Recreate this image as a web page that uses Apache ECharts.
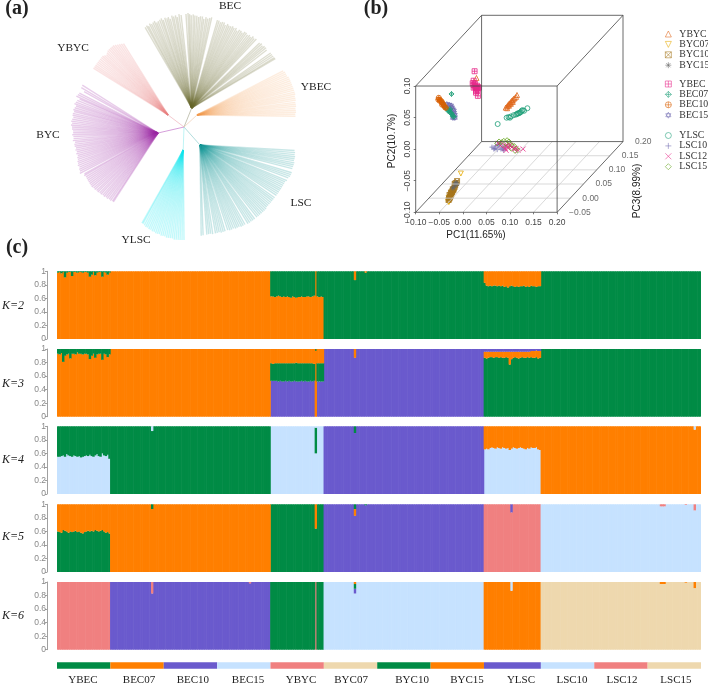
<!DOCTYPE html>
<html>
<head>
<meta charset="utf-8">
<script src="https://cdn.jsdelivr.net/npm/echarts@6/dist/echarts.min.js"></script>
<style>
  html, body { margin: 0; padding: 0; background: #fff; }
  #chart { width: 708px; height: 684px; }
</style>
</head>
<body>
<div id="chart"></div>
<script>
// ---- (c) populations ----
const popNames = ['YBEC', 'BEC07', 'BEC10', 'BEC15', 'YBYC', 'BYC07', 'BYC10', 'BYC15', 'YLSC', 'LSC10', 'LSC12', 'LSC15'];
const popSizes = [30, 30, 30, 30, 30, 30, 30, 30, 32, 30, 30, 30];
const popLabelAt = [14.6, 46.1, 76.4, 107.4, 137.2, 165.3, 199.6, 230.5, 260.8, 289.5, 317.6, 347.9];
const total = 362;

const GREEN = '#008b45', ORANGE = '#ff7f00', PURPLE = '#6a5acd', BLUE = '#c6e2ff', SALMON = '#f08080', TAN = '#eed8ae';
const stripColors = [GREEN, ORANGE, PURPLE, BLUE, SALMON, TAN, GREEN, ORANGE, PURPLE, BLUE, SALMON, TAN];

// jagged parts, read per individual
const k2YbecOrange = [.98,.99,.97,.99,.91,.98,.99,.99,.93,.99,.99,.98,.99,.99,.98,.99,.99,.98,.92,.95,.99,.94,.98,.99,.99,.92,.99,.98,.95,.98];
const k2YbycOrange = [.63,.63,.62,.63,.64,.63,.62,.63,.62,.63,.62,.61,.63,.62,.61,.62,.62,.63,.62,.62,.63,.63,.62,.63,.64,1,.63,.62,.63,.62];
const k2YlscOrange = [.17,.21,.22,.21,.22,.21,.21,.22,.21,.22,.21,.23,.22,.24,.22,.21,.22,.23,.22,.23,.22,.22,.21,.23,.22,.23,.21,.22,.22,.23,.22,.22];
const k3YbecOrange = [.93,.92,.94,.81,.9,.92,.93,.86,.93,.93,.92,.95,.93,.93,.92,.93,.93,.92,.85,.9,.93,.87,.92,.93,.93,.84,.93,.92,.88,.92];
const k3YbecGreen = [.07,.08,.06,.19,.1,.08,.07,.14,.07,.07,.08,.05,.07,.07,.08,.07,.07,.08,.15,.1,.07,.13,.08,.07,.07,.16,.07,.08,.12,.08];
const k3YbycPurple = [.53,.53,.53,.53,.52,.53,.52,.52,.53,.52,.53,.52,.52,.53,.52,.52,.52,.53,.52,.53,.52,.52,.53,.52,.53,0,.52,.52,.52,.52];
const k3YbycGreen = [.26,.25,.26,.26,.27,.26,.27,.27,.26,.27,.26,.27,.27,.26,.28,.27,.27,.26,.27,.26,.27,.27,.26,.27,.25,.03,.27,.27,.27,.27];
const k3YbycOrange = [.21,.22,.21,.21,.21,.21,.21,.21,.21,.21,.21,.21,.21,.21,.2,.21,.21,.21,.21,.21,.21,.21,.21,.21,.22,0,.21,.21,.21,.21];
const k3YlscGreen = [.87,.86,.87,.88,.88,.87,.88,.88,.87,.88,.87,.87,.88,.87,.77,.85,.87,.88,.87,.86,.87,.88,.87,.87,.88,.87,.88,.87,.87,.88,.86,.87];
const k3YlscOrange = [.09,.1,.09,.08,.08,.09,.08,.08,.09,.08,.09,.09,.08,.09,.19,.11,.09,.08,.09,.1,.09,.08,.09,.09,.08,.09,.09,.1,.1,.1,.11,.1];
const k4YbecBlue = [.55,.55,.56,.57,.55,.59,.57,.56,.55,.57,.56,.55,.56,.54,.55,.56,.57,.56,.58,.56,.55,.57,.59,.56,.55,.6,.57,.56,.58,.52];
const k4YbecGreen = [.45,.45,.44,.43,.45,.41,.43,.44,.45,.43,.44,.45,.44,.46,.45,.44,.43,.44,.42,.44,.45,.43,.41,.44,.45,.4,.43,.44,.42,.48];
const k4YlscBlue = [.66,.67,.66,.68,.69,.68,.67,.69,.68,.67,.69,.68,.67,.68,.65,.67,.69,.68,.67,.68,.69,.68,.67,.66,.68,.67,.69,.68,.68,.69,.66,.65];
const k4YlscOrange = [.34,.33,.34,.32,.31,.32,.33,.31,.32,.33,.31,.32,.33,.32,.35,.33,.31,.32,.33,.32,.31,.32,.33,.34,.32,.33,.31,.32,.32,.31,.34,.35];
const k5YbecGreen = [.6,.59,.58,.62,.61,.6,.58,.6,.59,.6,.61,.59,.6,.58,.57,.59,.6,.61,.6,.61,.6,.62,.61,.6,.61,.62,.6,.58,.59,.57];
const k5YbecOrange = [.4,.41,.42,.38,.39,.4,.42,.4,.41,.4,.39,.41,.4,.42,.43,.41,.4,.39,.4,.39,.4,.38,.39,.4,.39,.38,.4,.42,.41,.43];

// [how many individuals, value] runs, or a typed list as it is
const expand = (parts) => parts.flatMap((p) => (p.length === 2 ? Array(p[0]).fill(p[1]) : p));
// admixture adds up to 1 for an individual
const rest = (...layers) => layers[0].map((_, i) => +(1 - layers.reduce((s, l) => s + l[i], 0)).toFixed(3));

// K=2, bottom to top
const k2a = expand([k2YbecOrange, [90, 1], k2YbycOrange, [212, 0]]);
const k2c = expand([[167, 0], [1, .13], [5, 0], [1, .02], [66, 0], k2YlscOrange, [90, 0]]);
const k2b = rest(k2a, k2c);

// K=3
const k3a = expand([[120, 0], k3YbycPurple, [17, 1], [1, .87], [72, 1], [122, 0]]);
const k3b = expand([k3YbecOrange, [90, 1], [25, 0], [1, .97], [216, 0]]);
const k3c = expand([k3YbecGreen, [90, 0], k3YbycGreen, [90, 0], k3YlscGreen, [90, 1]]);
const k3d = expand([[120, 0], k3YbycOrange, [17, 0], [1, .13], [72, 0], k3YlscOrange, [90, 0]]);
const k3e = rest(k3a, k3b, k3c, k3d);

// K=4
const k4a = expand([k4YbecBlue, [90, 0], [25, 1], [1, .6], [4, 1], [90, 0], k4YlscBlue, [90, 0]]);
const k4b = expand([k4YbecGreen, [23, 1], [1, .93], [66, 1], [25, 0], [1, .38], [216, 0]]);
const k4c = expand([[150, 0], [17, 1], [1, .9], [72, 1], [122, 0]]);
const k4d = expand([[240, 0], k4YlscOrange, [86, 1], [1, .95], [3, 1]]);
const k4e = expand([[53, 0], [1, .07], [91, 0], [1, .02], [212, 0], [1, .05], [3, 0]]);
const k4f = expand([[167, 0], [1, .1], [194, 0]]);

// K=5
const k5a = expand([k5YbecGreen, [90, 0], [25, 1], [1, .64], [4, 1], [212, 0]]);
const k5b = expand([k5YbecOrange, [23, 1], [1, .93], [66, 1], [25, 0], [1, .36], [216, 0]]);
const k5c = expand([[150, 0], [17, 1], [1, .83], [5, 1], [1, .985], [66, 1], [122, 0]]);
const k5d = expand([[167, 0], [1, .1], [194, 0]]);
const k5e = expand([[53, 0], [1, .07], [113, 0], [1, .07], [5, 0], [1, .015], [188, 0]]);
const k5f = expand([[240, 0], [15, 1], [1, .88], [16, 1], [90, 0]]);
const k5g = expand([[255, 0], [1, .12], [106, 0]]);
const k5h = expand([[272, 0], [67, 1], [3, .97], [11, 1], [1, .99], [4, 1], [1, .91], [3, 1]]);
const k5i = expand([[339, 0], [3, .03], [11, 0], [1, .01], [4, 0], [1, .09], [3, 0]]);

// K=6
const k6a = expand([[30, 1], [115, 0], [1, 1], [216, 0]]);
const k6b = expand([[30, 0], [23, 1], [1, .83], [54, 1], [1, .98], [11, 1], [242, 0]]);
const k6c = expand([[53, 0], [1, .17], [54, 0], [1, .02], [253, 0]]);
const k6d = expand([[120, 0], [25, 1], [1, 0], [4, 1], [212, 0]]);
const k6e = expand([[150, 0], [17, 1], [1, .83], [72, 1], [122, 0]]);
const k6f = expand([[167, 0], [1, .07], [194, 0]]);
const k6g = expand([[167, 0], [1, .07], [5, 0], [1, .01], [188, 0]]);
const k6h = expand([[167, 0], [1, .03], [72, 0], [15, 1], [1, .87], [16, 1], [90, 0]]);
const k6i = expand([[255, 0], [1, .13], [106, 0]]);
const k6j = expand([[272, 0], [67, 1], [3, .97], [11, 1], [1, .99], [4, 1], [1, .91], [3, 1]]);
const k6k = expand([[339, 0], [3, .03], [11, 0], [1, .01], [4, 0], [1, .09], [3, 0]]);

// ---- (a) tree: tips as [angle, radius] around the knot ----
const becTips = [[111.3,107],[110.3,108],[109.4,107],[108.5,109],[107.5,108],[106.6,109],[105.7,110],[104.7,108],[103.8,109],[102.8,110],[101.9,111],[101,109],[100,111],[99,110],[98.2,111],[97.2,109],[96.3,112],[95.4,111],[94.4,112],[93.5,110],[92.6,113],[91.5,112],[89,113],[88,114],[87.2,113],[86.3,112],[85.3,113],[84.4,112],[83.4,112],[82.4,111],[81.5,112],[80.5,112],[79.6,110],[78.6,112],[77.7,111],[76.7,112],[75.8,113],[72.6,112],[71.7,112],[70.7,111],[69.8,112],[68.8,112],[67.9,110],[66.9,112],[66,111],[65,111],[64,112],[63.1,111],[62.1,112],[61.2,110],[60.2,112],[59.2,112],[58.3,111],[57.3,113],[56.4,113],[55.4,112],[54.4,113],[53.5,112],[52.5,114],[51.6,113],[50.6,114],[48,113],[47,114],[46,113],[45,114],[44,114],[43,113],[40.5,114],[39.5,114],[38.5,114],[37.5,114],[36.8,114]];
const ybecTips = [[5.5,112],[6.5,112],[7.5,113],[8.5,113],[9.5,113],[10.5,114],[11.5,114],[12.5,114],[13.5,115],[14.5,115],[15.5,115],[16.5,116],[17.5,116],[18.5,116],[19.5,116],[20.5,116],[21.5,116],[22.5,116],[23.5,116],[24.5,116],[25.5,116],[26.5,115],[27.5,115],[28.5,115],[29.5,114]];
const lscTips = [[348,113],[347,114],[346,114],[345,115],[344,115],[343,115],[342,116],[341,116],[340,116],[339,116],[337,117],[336,117],[335,117],[334,116],[332.5,116],[331.5,115],[330.5,115],[329.5,115],[328.5,115],[327.5,115],[326.5,115],[325.5,115],[324.5,115],[323.5,115],[322,115],[321,115],[320,115],[319,115],[318,115],[317,115],[316,115],[315,116],[314,116],[313,116],[312,116],[311,116],[310,116],[309,116],[307.5,116],[306.5,116],[305.5,116],[304.5,116],[303.5,116],[302,115],[301,115],[300,115],[299,114],[298,114],[297,114],[296,113],[295,113],[294,113],[293,112],[291.5,112],[290.5,112],[289.5,112],[288.5,111],[287.5,111],[286.5,111],[285,111],[284,110],[283,110],[282,110],[280,110],[279,110]];
const ylscTips = [[270,113],[269,113],[268,113],[267,113],[266,113],[265,113],[264,112],[263,112],[262,112],[261,112],[260,111],[259,111],[258,111],[257,110],[256,110],[255,110],[254,109],[253,109],[252,108],[251,108],[250,107],[249,107],[248,106],[247,105],[246.4,105]];
const bycTips = [[157.6,110],[159,110],[160.5,106],[162,110],[163,111],[164,112],[165,108],[166,110],[167,111],[168,112],[169,110],[170,111],[171,112],[172,111],[173,112],[174,112],[175,111],[176,112],[177,113],[178,112],[179,113],[180,112],[181,112],[182,111],[183,111],[184,112],[185,111],[186,111],[187,112],[188,110],[189,111],[190,111],[191,110],[192,111],[193,110],[194,111],[195,110],[196,111],[197,111],[198,112],[199,112],[200,113],[201,112],[202,113],[203,113],[204,114],[205.2,110],[206,111],[207,110],[208,110],[209,110],[210,110],[211,110],[212,110],[213,110],[214,109],[215,109],[216,108],[217,108],[218,107],[219,107],[220,106],[221,106],[222,105],[223,105],[224,104],[225,104],[226,103],[226.7,103]];
const ybycTips = [[126,103],[127,104],[128,105],[129,106],[130,107],[131,108],[132,108],[133,108],[134,108],[135,108],[136,107],[137,106],[138,107],[139,108],[140,108],[141,108],[142,108],[143,108],[144,108],[145,108],[146,108],[147,108]];
// where each clade fans out, [angle, radius]
const becHub = [68, 20.5], ybecHub = [42.7, 17.7], lscHub = [311.6, 24], ylscHub = [268, 23], bycHub = [193, 26.7], ybycHub = [143, 20];

// ---- (b) PCA, [pc1, pc2, pc3] ----
const pc1Ticks = [-0.10, -0.05, 0, 0.05, 0.10, 0.15, 0.20];
const pc2Ticks = [-0.10, -0.05, 0, 0.05, 0.10];
const pc3Ticks = [-0.05, 0, 0.05, 0.10, 0.15, 0.20];
const ybycPts = [[-.027,.068,.05],[.035,.021,.05],[.038,.023,.05],[.04,.025,.05],[.042,.027,.05],[.044,.028,.05],[.046,.03,.05],[.048,.032,.05],[.05,.033,.05],[.052,.035,.05],[.054,.036,.05],[.057,.038,.05],[.059,.041,.05],[.038,.02,.05],[.042,.024,.05],[.046,.027,.05],[.05,.03,.05]];
const byc07Pts = [[-.021,-.052,-.02],[-.046,-.097,-.02],[-.044,-.092,-.02],[-.047,-.091,-.02],[-.04,-.086,-.02],[-.042,-.089,-.02],[-.036,-.081,-.02],[-.048,-.097,-.02]];
const byc10Pts = [[-.029,-.064,-.02],[-.031,-.067,-.02],[-.033,-.07,-.02],[-.034,-.073,-.02],[-.036,-.076,-.02],[-.037,-.078,-.02],[-.039,-.08,-.02],[-.04,-.082,-.02],[-.041,-.084,-.02],[-.042,-.086,-.02],[-.043,-.088,-.02],[-.044,-.089,-.02],[-.045,-.091,-.02],[-.046,-.092,-.02],[-.047,-.094,-.02],[-.038,-.077,-.02],[-.042,-.082,-.02],[-.045,-.086,-.02],[-.034,-.068,-.02]];
const byc15Pts = [[-.029,-.069,-.02],[-.031,-.066,-.02],[-.034,-.072,-.02],[-.038,-.075,-.02],[-.033,-.068,-.02]];
const ybecPts = [[-.003,.101,0],[-.005,.086,0],[.004,.062,0],[-.007,.082,0],[-.005,.079,0],[-.002,.076,0],[0,.075,0],[.002,.073,0],[.004,.071,0],[.006,.075,0],[-.005,.075,0],[0,.07,0],[-.002,.081,0],[.002,.078,0],[.004,.076,0],[0,.067,0]];
const bec07Pts = [[-.052,.065,0],[-.072,.051,0],[-.069,.048,0],[-.066,.045,0],[-.064,.043,0],[-.061,.041,0],[-.057,.039,0],[-.055,.036,0],[-.053,.035,0],[-.051,.033,0],[-.049,.03,0],[-.047,.029,0],[-.059,.038,0],[-.055,.041,0]];
const bec10Pts = [[-.079,.059,0],[-.077,.056,0],[-.074,.054,0],[-.077,.054,0],[-.072,.052,0],[-.07,.049,0],[-.072,.048,0],[-.068,.047,0],[-.066,.044,0],[-.064,.043,0],[-.08,.056,0]];
const bec15Pts = [[-.062,.049,0],[-.057,.048,0],[-.053,.047,0],[-.051,.044,0],[-.055,.044,0],[-.049,.041,0],[-.047,.039,0],[-.053,.04,0],[-.047,.035,0],[-.045,.032,0],[-.045,.027,0],[-.049,.027,0],[-.049,.033,0]];
const ylscPts = [[.018,-.005,.05],[.037,.005,.05],[.041,.006,.05],[.046,.007,.05],[.052,.009,.05],[.057,.01,.05],[.061,.012,.05],[.065,.013,.05],[.067,.014,.05],[.069,.016,.05],[.071,.017,.05],[.074,.016,.05],[.063,.012,.05],[.059,.011,.05],[.081,.02,.05],[.044,.005,.05]];
const lsc10Pts = [[-.022,-.064,.1],[-.018,-.067,.1],[-.014,-.062,.1],[-.011,-.068,.1],[-.007,-.064,.1],[-.005,-.059,.1],[-.001,-.062,.1],[.001,-.067,.1],[.006,-.064,.1],[-.009,-.06,.1],[-.016,-.066,.1],[-.003,-.067,.1],[.003,-.069,.1]];
const lsc12Pts = [[-.009,-.058,.1],[-.003,-.062,.1],[.001,-.059,.1],[.006,-.066,.1],[.01,-.061,.1],[.012,-.064,.1],[.016,-.061,.1],[.02,-.064,.1],[.025,-.067,.1],[.029,-.066,.1],[.033,-.069,.1],[.044,-.067,.1],[.008,-.069,.1]];
const lsc15Pts = [[-.011,-.058,.1],[-.007,-.055,.1],[-.001,-.056,.1],[.003,-.054,.1],[.01,-.053,.1],[.014,-.055,.1],[.008,-.058,.1],[.016,-.059,.1],[.02,-.061,.1],[.025,-.062,.1],[.029,-.066,.1],[.033,-.069,.1],[.027,-.07,.1],[.001,-.061,.1],[.012,-.062,.1],[.018,-.066,.1]];

const SERIF = '"Liberation Serif", "Times New Roman", serif';
const SANS = '"Liberation Sans", Arial, sans-serif';

// scatterplot3d style oblique projection of the cube
const project = (p) => [p[0] + 0.559 * (p[2] + 0.05), p[1] + 0.448 * (p[2] + 0.05)];
const minus = (v) => v.toFixed(2).replace('-', '\u2212');

// R pch shapes
const cross = 'M5 0V10M0 5H10';
const ex = 'M0 0L10 10M10 0L0 10';
const box = 'M0 0H10V10H0Z';
const ring = 'M0 5A5 5 0 1 1 10 5A5 5 0 1 1 0 5Z';
const rhomb = 'M5 0L10 5L5 10L0 5Z';
const pcaSeries = [
  { name: 'YBYC', pts: ybycPts, color: '#e0681c', path: 'M5 0L10 10L0 10Z' },
  { name: 'BYC07', pts: byc07Pts, color: '#e6ab02', path: 'M0 0H10L5 10Z' },
  { name: 'BYC10', pts: byc10Pts, color: '#a6761d', path: box + ex },
  { name: 'BYC15', pts: byc15Pts, color: '#666666', path: cross + 'M1.5 1.5L8.5 8.5M8.5 1.5L1.5 8.5' },
  { name: 'YBEC', pts: ybecPts, color: '#e7298a', path: box + cross },
  { name: 'BEC15', pts: bec15Pts, color: '#7570b3', path: 'M5 0L9.3 7.5H0.7ZM5 10L0.7 2.5H9.3Z' },
  { name: 'BEC07', pts: bec07Pts, color: '#1b9e77', path: rhomb + cross },
  { name: 'BEC10', pts: bec10Pts, color: '#d95f02', path: ring + cross },
  { name: 'YLSC', pts: ylscPts, color: '#1b9e77', path: ring },
  { name: 'LSC10', pts: lsc10Pts, color: '#7570b3', path: cross },
  { name: 'LSC15', pts: lsc15Pts, color: '#66a61e', path: rhomb },
  { name: 'LSC12', pts: lsc12Pts, color: '#e7298a', path: ex }
];

// cube edges, floor grid
const cubeEdges = [];
const addEdge = (list, a, b) => { list.push(project(a), project(b), [null, null]); };
[-0.1, 0.1].forEach((y) => {
  addEdge(cubeEdges, [-0.1, y, -0.05], [0.2, y, -0.05]);
  addEdge(cubeEdges, [-0.1, y, 0.2], [0.2, y, 0.2]);
  addEdge(cubeEdges, [-0.1, y, -0.05], [-0.1, y, 0.2]);
  addEdge(cubeEdges, [0.2, y, -0.05], [0.2, y, 0.2]);
});
[-0.1, 0.2].forEach((x) => {
  addEdge(cubeEdges, [x, -0.1, -0.05], [x, 0.1, -0.05]);
  addEdge(cubeEdges, [x, -0.1, 0.2], [x, 0.1, 0.2]);
});
const floorLines = [];
pc1Ticks.slice(1, -1).forEach((x) => addEdge(floorLines, [x, -0.1, -0.05], [x, -0.1, 0.2]));
pc3Ticks.slice(1, -1).forEach((z) => addEdge(floorLines, [-0.1, -0.1, z], [0.2, -0.1, z]));

const cladeSeries = (tips, hub, color, opacity) => ({
  type: 'custom',
  coordinateSystem: 'polar',
  polarIndex: 0,
  silent: true,
  animation: false,
  clip: false,
  data: tips.map((t) => [t[1], t[0]]),
  renderItem: (params, api) => {
    const from = api.coord([hub[1], hub[0]]);
    const to = api.coord([api.value(0), api.value(1)]);
    return {
      type: 'line',
      shape: { x1: from[0], y1: from[1], x2: to[0], y2: to[1] },
      style: { stroke: color, lineWidth: 1.4, opacity: opacity }
    };
  }
});
const stemSeries = (hub, color) => ({
  type: 'custom',
  coordinateSystem: 'polar',
  polarIndex: 0,
  silent: true,
  animation: false,
  data: [[hub[1], hub[0]]],
  renderItem: (params, api) => {
    const from = api.coord([0, 0]);
    const to = api.coord([api.value(0), api.value(1)]);
    return {
      type: 'line',
      shape: { x1: from[0], y1: from[1], x2: to[0], y2: to[1] },
      style: { stroke: color, lineWidth: 0.9, opacity: 0.75 }
    };
  }
});

// (c) one grid per K
const kTops = [271.3, 349, 426.3, 504.3, 582];
const kPanels = [
  [[k2a, ORANGE], [k2b, GREEN], [k2c, ORANGE]],
  [[k3a, PURPLE], [k3b, ORANGE], [k3c, GREEN], [k3d, ORANGE], [k3e, PURPLE]],
  [[k4a, BLUE], [k4b, GREEN], [k4c, PURPLE], [k4d, ORANGE], [k4e, BLUE], [k4f, GREEN]],
  [[k5a, GREEN], [k5b, ORANGE], [k5c, PURPLE], [k5d, ORANGE], [k5e, GREEN], [k5f, SALMON], [k5g, PURPLE], [k5h, BLUE], [k5i, SALMON]],
  [[k6a, SALMON], [k6b, PURPLE], [k6c, SALMON], [k6d, GREEN], [k6e, BLUE], [k6f, PURPLE], [k6g, GREEN], [k6h, ORANGE], [k6i, BLUE], [k6j, TAN], [k6k, ORANGE]]
];
const individuals = Array.from({ length: total }, (_, i) => i);

// echarts 6 shrinks a grid to keep its labels in the canvas, we place them by hand
const grids = [{ left: 415.7, top: 15.3, width: 207.3, height: 197, outerBoundsMode: 'none' }];
const xAxes = [{
  gridIndex: 0, type: 'value', min: -0.1, max: 0.33975,
  splitLine: { show: false }, axisLine: { show: false, onZero: false },
  axisTick: { customValues: pc1Ticks, length: 2, lineStyle: { color: '#444', width: 0.7 } },
  axisLabel: { customValues: pc1Ticks, formatter: minus, fontFamily: SANS, fontSize: 8.5, color: '#444', margin: 5.5 }
}];
const yAxes = [{
  gridIndex: 0, type: 'value', min: -0.1, max: 0.212,
  splitLine: { show: false }, axisLine: { show: false, onZero: false },
  axisTick: { customValues: pc2Ticks, length: 2, lineStyle: { color: '#444', width: 0.7 } },
  axisLabel: { customValues: pc2Ticks, formatter: minus, rotate: 90, fontFamily: SANS, fontSize: 8.5, color: '#444', margin: 4 }
}];
const series = [];

// tree first
series.push(
  stemSeries(becHub, '#a8a890'), stemSeries(ybecHub, '#eecbb0'), stemSeries(lscHub, '#8ccccc'),
  stemSeries(ylscHub, '#a0eef0'), stemSeries(bycHub, '#c070c8'), stemSeries(ybycHub, '#eeb0b8'),
  cladeSeries(becTips, becHub, '#6b6b2f', 0.22),
  cladeSeries(ybecTips, ybecHub, '#f49a50', 0.18),
  cladeSeries(lscTips, lscHub, '#1f9a9a', 0.24),
  cladeSeries(ylscTips, ylscHub, '#10e8f0', 0.25),
  cladeSeries(bycTips, bycHub, '#a030a8', 0.24),
  cladeSeries(ybycTips, ybycHub, '#ea7f7f', 0.22)
);

// cube
series.push({
  type: 'line', xAxisIndex: 0, yAxisIndex: 0, data: floorLines, symbol: 'none', silent: true, animation: false,
  connectNulls: false, clip: false, lineStyle: { color: '#cfcfcf', width: 0.8 }
}, {
  type: 'line', xAxisIndex: 0, yAxisIndex: 0, data: cubeEdges, symbol: 'none', silent: true, animation: false,
  connectNulls: false, clip: false, lineStyle: { color: '#444', width: 0.8 }
}, {
  // PC3 tick labels follow the right floor edge
  type: 'scatter', xAxisIndex: 0, yAxisIndex: 0, symbolSize: 0, silent: true, animation: false, clip: false,
  data: pc3Ticks.map((z) => project([0.2, -0.1, z]).concat(z)),
  label: {
    show: true, position: 'right', distance: 12,
    formatter: (p) => minus(p.value[2]),
    fontFamily: SANS, fontSize: 8.5, color: '#444'
  }
});
pcaSeries.forEach((s) => {
  series.push({
    name: s.name, type: 'scatter', xAxisIndex: 0, yAxisIndex: 0, silent: true, animation: false, clip: false,
    symbol: 'path://' + s.path, symbolSize: 5,
    itemStyle: { color: 'transparent', borderColor: s.color, borderWidth: 1 },
    data: s.pts.map(project)
  });
});

kPanels.forEach((layers, k) => {
  const g = k + 1;
  grids.push({ left: 57, top: kTops[k], width: 644, height: 67.7, outerBoundsMode: 'none' });
  xAxes.push({ gridIndex: g, type: 'category', data: individuals, show: false, boundaryGap: true });
  yAxes.push({
    gridIndex: g, type: 'value', min: 0, max: 1, interval: 0.2, offset: 10,
    splitLine: { show: false },
    axisLine: { show: true, lineStyle: { color: '#888', width: 0.8 } },
    axisTick: { show: true, length: 2, lineStyle: { color: '#888', width: 0.8 } },
    axisLabel: { fontFamily: SANS, fontSize: 8.5, color: '#888', margin: 1 }
  });
  layers.forEach((l) => {
    series.push({
      type: 'bar', xAxisIndex: g, yAxisIndex: g, stack: 'k' + k,
      data: l[0].map((v) => (v > 0 ? v : '-')), barWidth: 2.4,
      silent: true, animation: false,
      itemStyle: { color: l[1] }
    });
  });
});

// colour strip with the population names under it
grids.push({ left: 57, top: 662.3, width: 644, height: 6.4, outerBoundsMode: 'none' });
xAxes.push({
  gridIndex: 6, type: 'value', min: 0, max: total,
  splitLine: { show: false }, axisLine: { show: false }, axisTick: { show: false },
  axisLabel: {
    customValues: popLabelAt,
    formatter: (v) => popNames[popLabelAt.indexOf(v)],
    fontFamily: SERIF, fontSize: 11, color: '#222', margin: 6
  }
});
yAxes.push({ gridIndex: 6, type: 'category', data: ['pop'], show: false });
popNames.forEach((n, i) => {
  series.push({
    type: 'bar', xAxisIndex: 6, yAxisIndex: 6, stack: 'strip', data: [popSizes[i]], barWidth: 6.4,
    silent: true, animation: false, itemStyle: { color: stripColors[i] }
  });
});

const legendBase = {
  orient: 'vertical', left: 665, padding: 0, itemWidth: 6, itemHeight: 6, itemGap: 0.4, selectedMode: false,
  itemStyle: { borderWidth: 0.7 },
  textStyle: { fontFamily: SERIF, fontSize: 9.8, color: '#333', padding: [0, 0, 0, 3] }
};

const annotation = (text, x, y, font, extra) => Object.assign({
  type: 'text', x: x, y: y, silent: true,
  style: { text: text, font: font, fill: '#222', align: 'center', verticalAlign: 'middle' }
}, extra || {});
const boldFont = 'bold 20px ' + SERIF;
const cladeFont = '11.4px ' + SERIF;
const kFont = 'italic 12px ' + SERIF;
const titleFont = '10px ' + SANS;

const option = {
  backgroundColor: '#fff',
  animation: false,
  polar: { center: [184, 127], radius: 120 },
  angleAxis: { type: 'value', min: 0, max: 360, startAngle: 0, clockwise: false, show: false },
  radiusAxis: { type: 'value', min: 0, max: 120, show: false },
  grid: grids,
  xAxis: xAxes,
  yAxis: yAxes,
  legend: [
    Object.assign({}, legendBase, { top: 29, data: ['YBYC', 'BYC07', 'BYC10', 'BYC15'] }),
    Object.assign({}, legendBase, { top: 79, data: ['YBEC', 'BEC07', 'BEC10', 'BEC15'] }),
    Object.assign({}, legendBase, { top: 130.5, data: ['YLSC', 'LSC10', 'LSC12', 'LSC15'] })
  ],
  series: series,
  graphic: [
    annotation('(a)', 17, 9, boldFont),
    annotation('(b)', 376, 9, boldFont),
    annotation('(c)', 17, 248, boldFont),
    annotation('BEC', 230, 6, cladeFont),
    annotation('YBYC', 73, 48, cladeFont),
    annotation('YBEC', 316, 87, cladeFont),
    annotation('BYC', 48, 135, cladeFont),
    annotation('LSC', 301, 203, cladeFont),
    annotation('YLSC', 136, 240, cladeFont),
    annotation('K=2', 13, 306, kFont),
    annotation('K=3', 13, 384, kFont),
    annotation('K=4', 13, 460, kFont),
    annotation('K=5', 13, 537, kFont),
    annotation('K=6', 13, 616, kFont),
    annotation('PC1(11.65%)', 476, 235, titleFont),
    annotation('PC2(10.7%)', 392, 141, titleFont, { rotation: Math.PI / 2 }),
    annotation('PC3(8.99%)', 637, 191, titleFont, { rotation: Math.PI / 2 })
  ]
};

const myChart = echarts.init(document.getElementById('chart'), null, { renderer: 'canvas' });
myChart.setOption(option);
</script>
</body>
</html>
